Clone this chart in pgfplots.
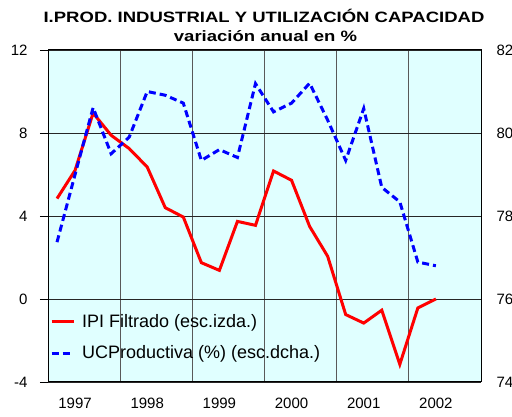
\documentclass[border=0pt]{standalone}
\usepackage{pgfplots}
\pgfplotsset{compat=1.18}
\usepackage{fontspec}
\setmainfont{Liberation Sans}
\definecolor{bgc}{RGB}{224,255,255}

\pgfplotstableread{
i ipi
0 4.84
1 6.20
2 8.96
3 7.89
4 7.25
5 6.36
6 4.40
7 3.95
8 1.75
9 1.38
10 3.74
11 3.55
12 6.17
13 5.72
14 3.50
15 2.06
16 -0.75
17 -1.16
18 -0.54
19 -3.15
20 -0.43
21 0.00
}\ipitable

\pgfplotstableread{
i uc
0 77.37
1 79.00
2 80.61
3 79.50
4 79.90
5 81.00
6 80.91
7 80.72
8 79.34
9 79.60
10 79.41
11 81.19
12 80.51
13 80.72
14 81.20
15 80.31
16 79.34
17 80.59
18 78.69
19 78.34
20 76.89
21 76.80
}\uctable

\begin{document}
\begin{tikzpicture}
\begin{axis}[
  at={(48bp,35bp)}, anchor=south west,
  scale only axis, width=433bp, height=332bp,
  xmin=-0.5, xmax=23.5, ymin=-4, ymax=12,
  axis background/.style={fill=bgc},
  axis line style={black, line width=1bp},
  xtick={1,5,9,13,17,21},
  xticklabels={1997,1998,1999,2000,2001,2002},
  minor xtick={3.5,7.5,11.5,15.5,19.5},
  xminorgrids=true,
  minor x grid style={black!65, line width=0.9bp},
  major x tick style={draw=none},
  minor x tick style={draw=none},
  ytick={-4,0,4,8,12},
  ytick pos=left,
  tick align=outside,
  major tick length=8bp,
  ymajorgrids=true,
  major y grid style={black!85, line width=0.9bp},
  y tick style={black, line width=0.9bp},
  /pgf/number format/assume math mode=true,
  tick label style={font=\fontsize{15bp}{18bp}\selectfont},
  yticklabel style={xshift=-9bp},
  xticklabel style={yshift=-5bp},
]
\addplot[red, line width=3bp] table[x=i, y=ipi] {\ipitable};
\end{axis}
\begin{axis}[
  at={(48bp,35bp)}, anchor=south west,
  scale only axis, width=433bp, height=332bp,
  xmin=-0.5, xmax=23.5, ymin=74, ymax=82,
  axis y line*=right, axis x line=none,
  y axis line style={black, line width=1bp},
  ytick={74,76,78,80,82},
  major y tick style={draw=none},
  /pgf/number format/assume math mode=true,
  tick label style={font=\fontsize{15bp}{18bp}\selectfont},
  yticklabel style={xshift=12bp},
  legend style={draw=none, fill=none, inner sep=0pt, at={(0,0)}, anchor=south west,
    xshift=2bp, yshift=19.5bp, row sep=13bp,
    font=\fontsize{18bp}{21bp}\selectfont,
    nodes={inner sep=2bp},
    /tikz/every odd column/.append style={column sep=5bp}},
  legend cell align=left,
  legend image code/.code={\draw[#1] (0bp,0bp) -- (22bp,0bp);},
]
\addlegendimage{red, line width=3bp}
\addlegendentry{IPI Filtrado (esc.izda.)}
\addplot[blue, line width=3bp, dash pattern=on 7bp off 4bp] table[x=i, y=uc] {\uctable};
\addlegendentry{UCProductiva (\%) (esc.dcha.)}
\end{axis}
\node[anchor=base, inner sep=0pt, font=\bfseries\fontsize{15bp}{18bp}\selectfont] at (264bp,394bp) {\scalebox{1.234}[1]{I.PROD. INDUSTRIAL Y UTILIZACIÓN CAPACIDAD}};
\node[anchor=base, inner sep=0pt, font=\bfseries\fontsize{15bp}{18bp}\selectfont] at (265.5bp,375bp) {\scalebox{1.234}[1]{variación anual en \%}};
\pgfresetboundingbox
\useasboundingbox (0,0) rectangle (512bp,417bp);
\end{tikzpicture}
\end{document}
